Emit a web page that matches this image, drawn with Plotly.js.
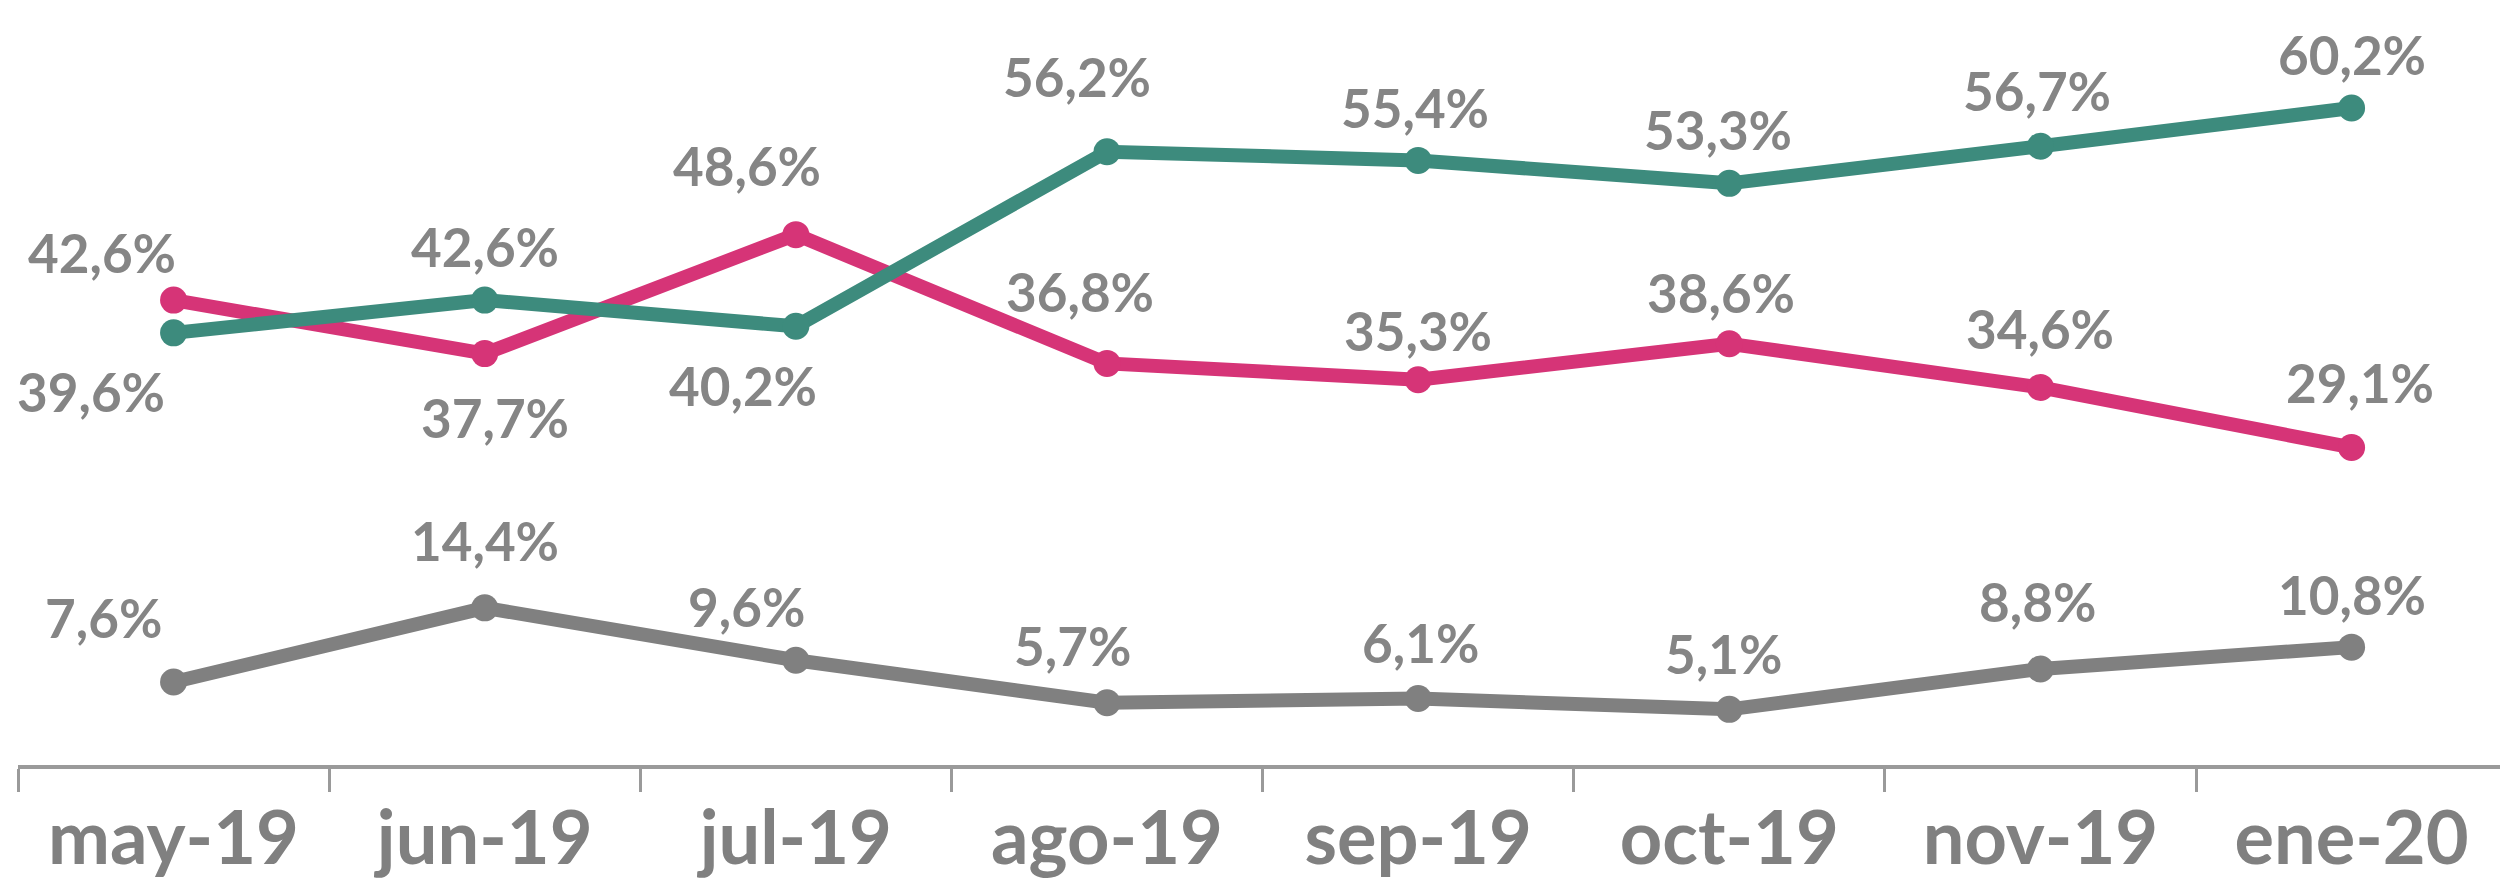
<!DOCTYPE html>
<html>
<head>
<meta charset="utf-8">
<script src="https://cdn.plot.ly/plotly-3.0.1.min.js"></script>
<style>html,body{margin:0;padding:0;background:#fff;}#chart{width:2500px;height:892px;}</style>
</head>
<body>
<div id="chart"></div>
<script>
var months = ["may-19","jun-19","jul-19","ago-19","sep-19","oct-19","nov-19","ene-20"];
var serieVerde = [39.6, 42.6, 40.2, 56.2, 55.4, 53.3, 56.7, 60.2];
var serieRosa  = [42.6, 37.7, 48.6, 36.8, 35.3, 38.6, 34.6, 29.1];
var serieGris  = [7.6, 14.4, 9.6, 5.7, 6.1, 5.1, 8.8, 10.8];

// label offsets (pixels) per point
var offVerde = [[-83,-59],[0,54],[-53,-59],[-30,75],[-3,53],[-11,54],[-3,56],[0,54]];
var offRosa  = [[-72,48],[10,-64],[-49,69],[-27,72],[0,49],[-8,51],[0,59],[8,65]];
var offGris  = [[-70,65],[0,67],[-49,54],[-35,57],[2,56],[-6,56],[-3,67],[0,53]];

var colVerde = "#3d8b7d", colRosa = "#d63477", colGris = "#808080";

function fmt(v){ return v.toFixed(1).replace(".", ",") + "%"; }

function tr(vals, col){
  return {x: months, y: vals, type: "scatter", mode: "lines+markers",
    line: {color: col, width: 14}, marker: {color: col, size: 27},
    hoverinfo: "skip", showlegend: false, cliponaxis: false};
}

var anns = [];
function addAnn(vals, offs){
  vals.forEach(function(v, i){
    anns.push({x: months[i], y: v, xref: "x", yref: "y", text: fmt(v), showarrow: false,
      xshift: offs[i][0], yshift: offs[i][1],
      font: {family: "Lato, 'Open Sans', sans-serif", size: 53, color: "#858585", weight: 700}});
  });
}
addAnn(serieVerde, offVerde);
addAnn(serieRosa, offRosa);
addAnn(serieGris, offGris);

var layout = {
  width: 2500, height: 892,
  margin: {l: 18, r: 0, t: 0, b: 127},
  paper_bgcolor: "#ffffff", plot_bgcolor: "#ffffff",
  xaxis: {type: "category", range: [-0.5, 7.477], showgrid: false, zeroline: false,
    showline: true, linecolor: "#9a9a9a", linewidth: 4,
    ticks: "outside", tickson: "boundaries", ticklen: 23, tickwidth: 3, tickcolor: "#9a9a9a",
    tickfont: {family: "Lato, sans-serif", size: 74, color: "#808080", weight: 700},
    ticklabelstandoff: 6, fixedrange: true},
  yaxis: {range: [0, 70.1], visible: false, showgrid: false, zeroline: false, fixedrange: true},
  annotations: anns,
  hovermode: false
};

Plotly.newPlot("chart", [tr(serieGris, colGris), tr(serieRosa, colRosa), tr(serieVerde, colVerde)], layout, {displayModeBar: false, staticPlot: true});
</script>
</body>
</html>
